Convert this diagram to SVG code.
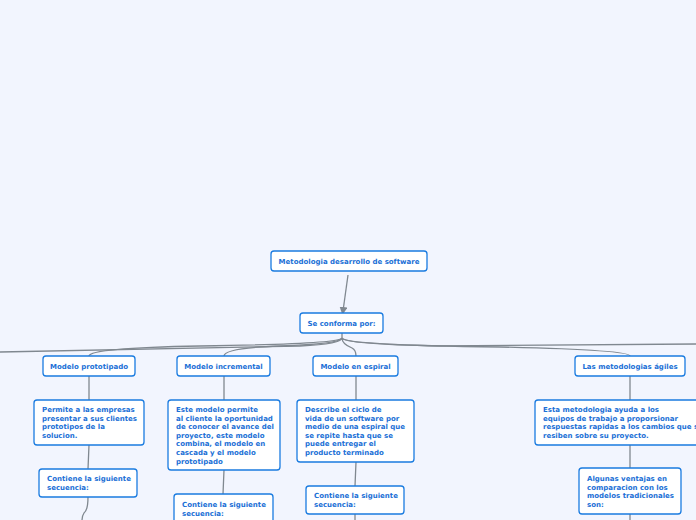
<svg xmlns="http://www.w3.org/2000/svg" width="696" height="520" viewBox="0 0 696 520">
<style>
.n{fill:#fff;stroke:#1a7be0;stroke-width:1.3}
.t{font-family:"DejaVu Sans",sans-serif;font-weight:bold;font-size:7px;fill:#1a6fd6}
.c{fill:none;stroke:#808890;stroke-width:1.3}
</style>
<defs><marker id="a" markerWidth="8" markerHeight="8" refX="4" refY="4" orient="auto" markerUnits="userSpaceOnUse"><path d="M0,0L8,4L0,8z" fill="#808890"/></marker></defs>
<rect width="696" height="520" fill="#f2f5fe"/>
<g id="connectors">
<path class="c" d="M348,275L343,311" marker-end="url(#a)"/>
<path class="c" d="M342,333V338Q342,344 300,346L0,352"/>
<path class="c" d="M342,338Q340,344 200,346Q90,348 89,356"/>
<path class="c" d="M342,338Q340,344 280,346Q224,348 224,356"/>
<path class="c" d="M342,338Q342,344 352,348Q356,350 356,356"/>
<path class="c" d="M342,338Q344,344 440,346L696,344"/>
<path class="c" d="M342,338Q344,345 500,347Q630,350 630,356"/>
<path class="c" d="M89,376V400M89,445L88,469M88,497Q88,510 84,513Q82,516 82,520"/>
<path class="c" d="M224,376V400M224,470L223,494"/>
<path class="c" d="M356,376V400M356,462L355,486M355,514V520"/>
<path class="c" d="M630,376V400M630,445V468M630,514V520"/>
</g>
<g id="root"><rect class="n" x="271" y="251" width="156" height="20" rx="3"/><text class="t" x="349" y="263.5" text-anchor="middle">Metodologia desarrollo de software</text></g>
<g id="se"><rect class="n" x="300" y="313" width="83" height="20" rx="3"/><text class="t" x="341.5" y="325.5" text-anchor="middle">Se conforma por:</text></g>
<g id="proto"><rect class="n" x="43" y="356" width="92" height="20" rx="3"/><text class="t" x="89" y="368.5" text-anchor="middle">Modelo prototipado</text></g>
<g id="incr"><rect class="n" x="177" y="356" width="93" height="20" rx="3"/><text class="t" x="223.5" y="368.5" text-anchor="middle">Modelo incremental</text></g>
<g id="esp"><rect class="n" x="313" y="356" width="85" height="20" rx="3"/><text class="t" x="355.5" y="368.5" text-anchor="middle">Modelo en espiral</text></g>
<g id="agil"><rect class="n" x="575" y="356" width="110" height="20" rx="3"/><text class="t" x="630" y="368.5" text-anchor="middle">Las metodologias ágiles</text></g>
<g id="permite"><rect class="n" x="34" y="400" width="110" height="45" rx="3"/><text class="t" x="42" y="412"><tspan x="42">Permite a las empresas</tspan><tspan x="42" dy="8.6">presentar a sus clientes</tspan><tspan x="42" dy="8.6">prototipos de la</tspan><tspan x="42" dy="8.6">solucion.</tspan></text></g>
<g id="cont1"><rect class="n" x="39" y="469" width="98" height="28" rx="3"/><text class="t" x="47" y="481"><tspan x="47">Contiene la siguiente</tspan><tspan x="47" dy="8.6">secuencia:</tspan></text></g>
<g id="este"><rect class="n" x="168" y="400" width="112" height="70" rx="3"/><text class="t" x="176" y="412"><tspan x="176">Este modelo permite</tspan><tspan x="176" dy="8.6">al cliente la oportunidad</tspan><tspan x="176" dy="8.6">de conocer el avance del</tspan><tspan x="176" dy="8.6">proyecto,  este modelo</tspan><tspan x="176" dy="8.6">combina, el modelo en</tspan><tspan x="176" dy="8.6">cascada y el modelo</tspan><tspan x="176" dy="8.6">prototipado</tspan></text></g>
<g id="cont2"><rect class="n" x="174" y="494" width="99" height="30" rx="3"/><text class="t" x="182" y="507"><tspan x="182">Contiene la siguiente</tspan><tspan x="182" dy="8.6">secuencia:</tspan></text></g>
<g id="describe"><rect class="n" x="297" y="400" width="117" height="62" rx="3"/><text class="t" x="305" y="412"><tspan x="305">Describe el ciclo de</tspan><tspan x="305" dy="8.6">vida de un software por</tspan><tspan x="305" dy="8.6">medio de una espiral que</tspan><tspan x="305" dy="8.6">se repite hasta que se</tspan><tspan x="305" dy="8.6">puede entregar el</tspan><tspan x="305" dy="8.6">producto terminado</tspan></text></g>
<g id="cont3"><rect class="n" x="306" y="486" width="98" height="28" rx="3"/><text class="t" x="314" y="498"><tspan x="314">Contiene la siguiente</tspan><tspan x="314" dy="8.6">secuencia:</tspan></text></g>
<g id="esta"><rect class="n" x="535" y="400" width="170" height="45" rx="3"/><text class="t" x="543" y="412"><tspan x="543">Esta metodologia ayuda a los</tspan><tspan x="543" dy="8.6">equipos de trabajo a proporsionar</tspan><tspan x="543" dy="8.6">respuestas rapidas a los cambios que se</tspan><tspan x="543" dy="8.6">resiben sobre su proyecto.</tspan></text></g>
<g id="algunas"><rect class="n" x="579" y="468" width="102" height="46" rx="3"/><text class="t" x="587" y="481"><tspan x="587">Algunas ventajas en</tspan><tspan x="587" dy="8.6">comparacion con los</tspan><tspan x="587" dy="8.6">modelos tradicionales</tspan><tspan x="587" dy="8.6">son:</tspan></text></g>
</svg>
